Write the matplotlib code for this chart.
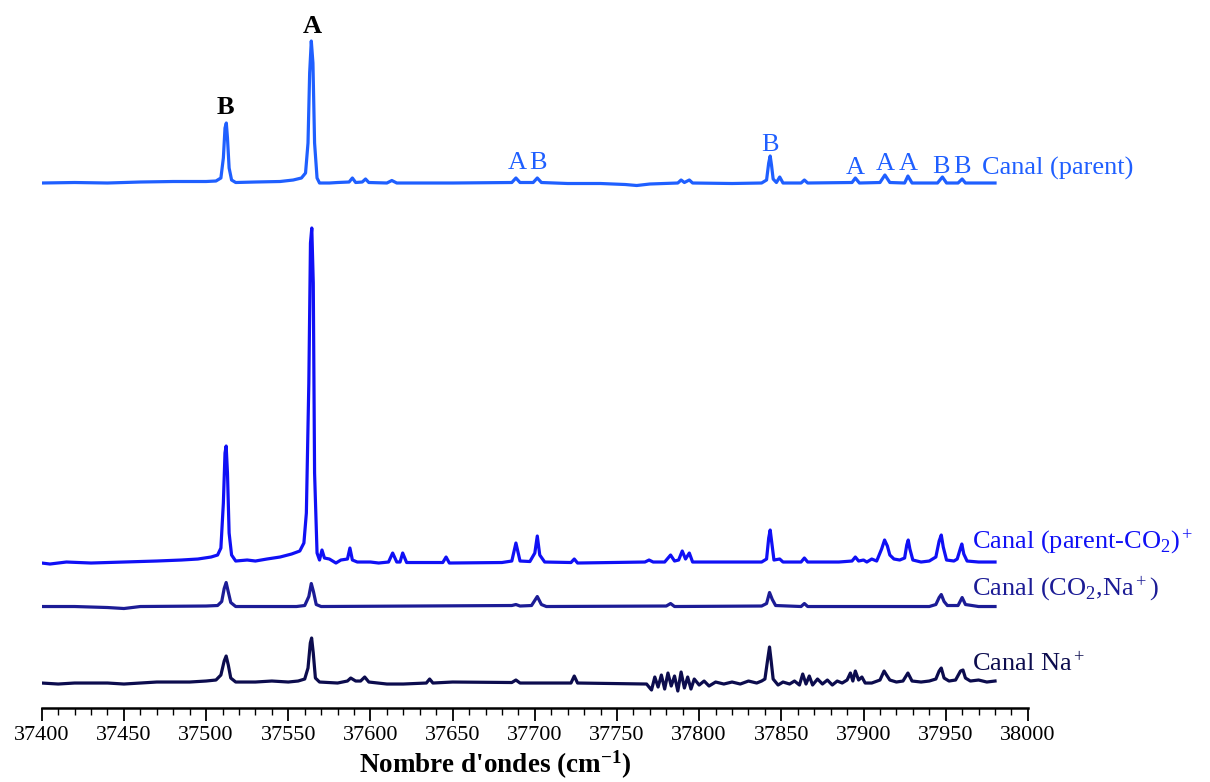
import matplotlib
matplotlib.use("Agg")
import matplotlib.pyplot as plt
import numpy as np

plt.rcParams["font.family"] = ["Liberation Serif", "DejaVu Serif"]
plt.rcParams["mathtext.fontset"] = "custom"
plt.rcParams["mathtext.rm"] = "Liberation Serif"
plt.rcParams["mathtext.it"] = "Liberation Serif:italic"
plt.rcParams["mathtext.bf"] = "Liberation Serif:bold"

# spectra: (wavenumber cm-1, intensity above own baseline, a.u.)
parent = [
    (37400, 0), (37420, 0.5), (37440, 0), (37460, 1), (37480, 1.5), (37500, 1.5),
    (37506, 2), (37509, 5), (37510.5, 25), (37511.5, 55), (37512.3, 60), (37513, 45),
    (37514, 15), (37515.5, 3), (37518, 0.5), (37530, 1), (37545, 1.5), (37553, 3),
    (37558, 5), (37560.5, 10), (37562, 40), (37563, 110), (37564, 142), (37565, 120),
    (37566, 40), (37567.5, 5), (37569, 0), (37575, 0), (37580, 0.5), (37587, 1),
    (37589, 5), (37591, 0.5), (37595, 1), (37597, 4), (37599, 0.5), (37610, 0),
    (37613, 2.5), (37616, 0), (37650, 0), (37686, 0.5), (37688.5, 5), (37691, 0.5),
    (37699, 0.5), (37701.5, 5), (37704, 0.5), (37720, -0.5), (37740, -0.5),
    (37755, -1.5), (37762, -2.5), (37770, -1), (37787, 0), (37789, 3), (37791, 0.5),
    (37794, 3), (37796, 0), (37820, -0.5), (37838, 0), (37841, 3), (37842.3, 20),
    (37843.2, 27), (37844, 18), (37845, 4), (37847, 0.5), (37849, 6), (37851, 0),
    (37862, 0), (37864, 3), (37866, 0), (37893, 0.5), (37895, 5), (37897.5, 0),
    (37910, 0.5), (37913, 8), (37916, 0.5), (37925, 0), (37927, 7), (37929.5, 0),
    (37945, 0), (37948, 6), (37950.5, 0), (37957.5, 0), (37960, 4), (37962, 0),
    (37980, 0),
]
parent_co2 = [
    (37400, 0), (37405, -1), (37415, 1), (37430, 0), (37450, 1), (37470, 2),
    (37485, 3), (37495, 4), (37503, 6), (37507, 8), (37509, 15), (37510.5, 60),
    (37511.5, 110), (37512.2, 117), (37513, 90), (37514, 30), (37515.5, 8),
    (37518, 2), (37525, 3), (37530, 2), (37537, 4), (37545, 6), (37552, 9),
    (37557, 12), (37559.5, 20), (37561, 50), (37562.5, 180), (37563.5, 320),
    (37564.3, 335), (37565.2, 280), (37566, 90), (37567.5, 10), (37569, 3),
    (37570.5, 13), (37572, 5), (37575, 4), (37579, 0), (37582, 3), (37586, 4),
    (37587.5, 15), (37589, 3), (37592, 1), (37600, 1), (37605, 0), (37611, 1),
    (37613.5, 10), (37616, 1), (37618, 1), (37619.6, 10), (37622, 0.5), (37644, 0.5),
    (37646, 6), (37648, 0), (37680, 0.5), (37686, 2), (37688.5, 20), (37691, 2),
    (37697, 1.5), (37700, 10), (37701.5, 27), (37703, 8), (37706, 1), (37722, 0.5),
    (37724, 4), (37726, 0), (37767, 1), (37769.5, 3), (37772, 1), (37779, 1),
    (37782.6, 8), (37785, 2), (37787.5, 3), (37789.7, 12), (37791.7, 4), (37794, 10),
    (37796, 1), (37838, 1), (37841, 4), (37842.3, 25), (37843.2, 33), (37844.2, 20),
    (37845.5, 3), (37849, 4), (37851, 1), (37862, 1), (37864, 5), (37866, 1),
    (37885, 1), (37893, 2), (37895, 6), (37897, 2), (37900, 3), (37902, 1),
    (37905, 4), (37908, 2), (37911, 14), (37912.8, 23), (37914.5, 17), (37916, 8),
    (37918.5, 4), (37922, 3), (37925, 5), (37926.3, 18), (37927.2, 23),
    (37928.2, 14), (37930, 3), (37935, 1), (37940, 2), (37944, 6), (37946, 22),
    (37947.3, 28), (37948.5, 16), (37950.5, 3), (37955, 2), (37957, 4), (37959, 15),
    (37959.8, 19), (37961, 9), (37963, 2), (37970, 1), (37980, 1),
]
co2_na = [
    (37400, 0), (37420, 0), (37440, -1), (37450, -2), (37460, 0), (37500, 0.5),
    (37507, 1), (37509.5, 5), (37511, 18), (37512.2, 24), (37513.3, 16), (37515, 4),
    (37518, 0), (37555, 0), (37560, 1), (37562.5, 10), (37564, 23), (37565.3, 15),
    (37567, 2), (37570, 0), (37686, 1), (37688.5, 2), (37691, 0.5), (37698, 1),
    (37701.5, 10), (37704, 2), (37707, 0), (37780, 0.5), (37782.6, 3), (37785, 0),
    (37838, 0.5), (37841, 3), (37842.8, 14), (37844.5, 7), (37846.5, 1), (37862, 0),
    (37864, 3), (37866, 0), (37940, 0), (37944, 2), (37946, 9), (37947.3, 12),
    (37949, 5), (37951, 1), (37957.5, 1), (37960, 9), (37962, 2), (37970, 0),
    (37980, 0),
]
na = [
    (37400, 0), (37410, -1), (37420, 0), (37440, 0), (37450, -1), (37470, 1),
    (37490, 1), (37500, 2), (37506, 3), (37509, 8), (37511, 22), (37512.2, 27),
    (37513.5, 18), (37515, 5), (37518, 1), (37530, 1), (37540, 2), (37550, 1),
    (37556, 2), (37560, 4), (37562, 15), (37563.4, 40), (37564.2, 45), (37565.2, 30),
    (37566.5, 5), (37569, 1), (37580, 0), (37586, 2), (37588, 5), (37591, 2),
    (37594, 2), (37596.5, 6), (37599, 1), (37610, -1), (37620, -1), (37634, 0),
    (37636, 4), (37638, 0), (37650, 1), (37686, 0.5), (37688.5, 3), (37691, 0),
    (37722, 0), (37724, 7), (37726, 0), (37768, -1), (37771, -7), (37773, 6),
    (37775, -4), (37777, 8), (37779, -6), (37781, 10), (37783, -3), (37785, 7),
    (37787, -8), (37789, 11), (37791, -5), (37793, 6), (37795, -6), (37797, 4),
    (37800, -2), (37803, 2), (37806, -3), (37810, 1), (37815, -1), (37820, 1),
    (37825, -1), (37830, 2), (37835, 0), (37838, 2), (37840, 4), (37841.8, 25),
    (37842.8, 36), (37843.8, 22), (37845, 4), (37848, -2), (37851, 1), (37855, -1),
    (37858, 2), (37861, -2), (37863, 9), (37865, -1), (37867, 7), (37869, -2),
    (37872, 4), (37875, -1), (37878, 3), (37881, -2), (37884, 2), (37887, 0),
    (37890, 3), (37892, 10), (37893.5, 2), (37895, 12), (37897, 3), (37899, 6),
    (37901, 0), (37905, 0), (37910, 3), (37912.5, 12), (37914, 8), (37916, 3),
    (37920, 1), (37924, 2), (37927, 10), (37929.5, 2), (37935, 1), (37940, 2),
    (37944, 4), (37946, 12), (37947.3, 15), (37949, 5), (37952, 2), (37956, 3),
    (37959, 12), (37960.5, 13), (37962, 5), (37965, 2), (37970, 3), (37975, 1),
    (37980, 2),
]

channel_names = [
    "Canal (parent)",
    r"Canal (parent-CO$_2$)$^+$",
    r"Canal (CO$_2$,Na$^+$)",
    r"Canal Na$^+$",
]

# assignments on the parent channel
big_labels = ["B", "A"]
big_label_wn = [37512, 37564.5]
small_labels = ["A", "B", "B", "A", "A", "A", "B", "B"]
small_label_wn = [37689, 37702, 37843, 37895, 37913, 37927, 37947, 37960]

# layout (in display-ish units)
offsets = [525, 145, 101.5, 25]
colors = ["#1f5fff", "#1010f5", "#1c1c96", "#0c0c4e"]
name_pos = [(37972, 540), (37966, 167), (37966, 120), (37966, 44)]
small_label_y = [545, 545, 563, 540, 544, 544, 541, 541]
big_label_y = [601, 682]

fig = plt.figure(figsize=(12.1, 7.82), dpi=100)
ax = fig.add_axes([0.0345, 0.0946, 0.815, 0.9054])

for pts, off, col in zip([parent, parent_co2, co2_na, na], offsets, colors):
    arr = np.array(pts, dtype=float)
    ax.plot(arr[:, 0], arr[:, 1] + off, color=col, lw=2.3, solid_joinstyle="round")

for name, (xw, yv), col in zip(channel_names, name_pos, colors):
    ax.text(xw, yv, name, color=col, fontsize=19, ha="left", va="center",
            clip_on=False)

for lab, xw, yv in zip(big_labels, big_label_wn, big_label_y):
    ax.text(xw, yv, lab, fontsize=19, fontweight="bold", ha="center", va="center")
for lab, xw, yv in zip(small_labels, small_label_wn, small_label_y):
    ax.text(xw, yv, lab, fontsize=19, color=colors[0], ha="center", va="center")

ax.set_xlim(37400, 38000)
ax.set_ylim(0, 708)
for s in ["left", "right", "top"]:
    ax.spines[s].set_visible(False)
ax.spines["bottom"].set_linewidth(1.8)
ax.set_yticks([])
ax.set_xticks(np.arange(37400, 38001, 50))
ax.set_xticks(np.arange(37400, 38001, 10), minor=True)
ax.tick_params(axis="x", which="major", length=9, width=1.3, labelsize=16, pad=4)
ax.tick_params(axis="x", which="minor", length=5, width=1.0)
ax.set_xlabel(r"Nombre d'ondes (cm$^{\mathbf{-1}}$)", fontsize=19.5,
              fontweight="bold")
ax.xaxis.set_label_coords(0.4596, -0.058)

fig.savefig("out.png", dpi=100)
